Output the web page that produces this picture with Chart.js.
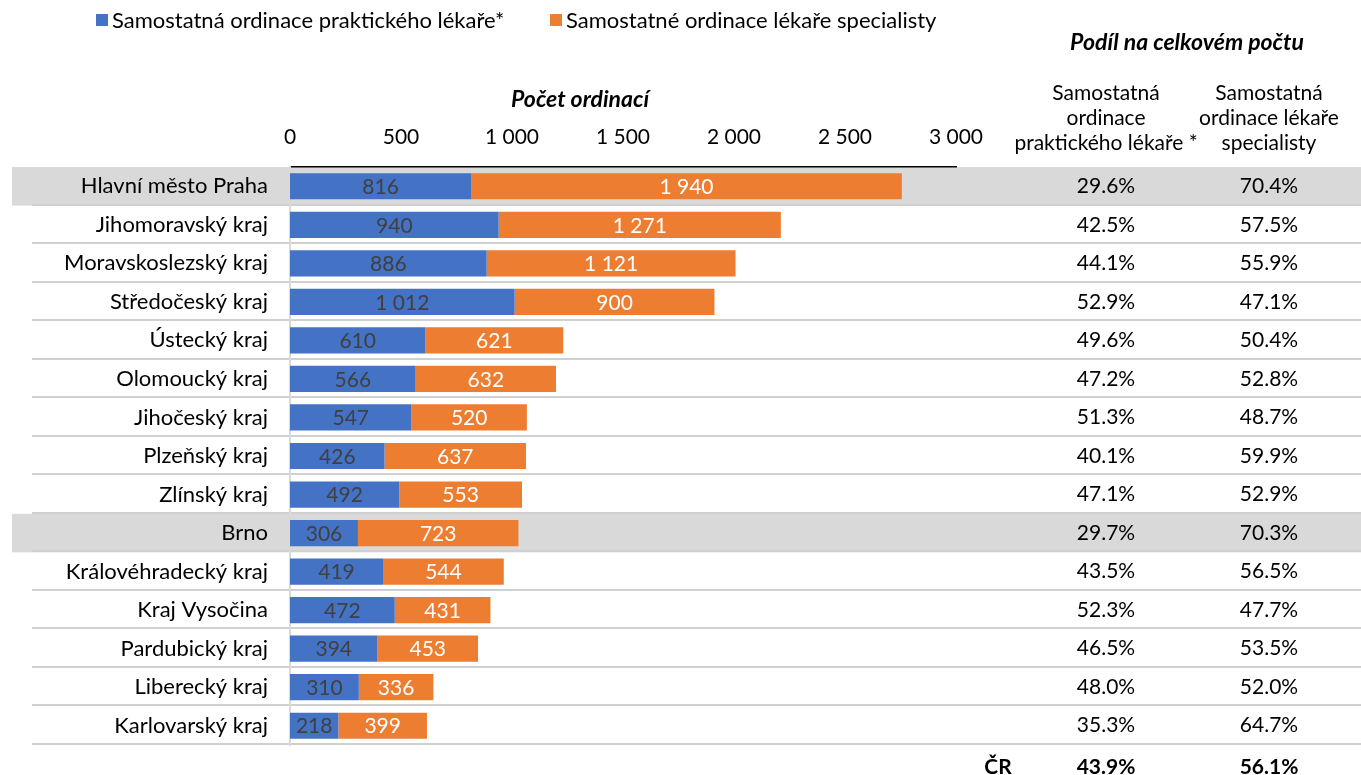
<!DOCTYPE html>
<html>
<head>
<meta charset="utf-8">
<script src="https://cdn.jsdelivr.net/npm/chart.js@4.4.1/dist/chart.umd.min.js"></script>
<style>
  html,body{margin:0;padding:0;background:#fff;}
  canvas{display:block;}
</style>
</head>
<body>
<canvas id="chart" width="1361" height="775"></canvas>
<script>
// ordinace podle krajů – počty a podíly
const regions = ['Hlavní město Praha','Jihomoravský kraj','Moravskoslezský kraj','Středočeský kraj','Ústecký kraj',
  'Olomoucký kraj','Jihočeský kraj','Plzeňský kraj','Zlínský kraj','Brno','Královéhradecký kraj',
  'Kraj Vysočina','Pardubický kraj','Liberecký kraj','Karlovarský kraj'];
const practitioners = [816,940,886,1012,610,566,547,426,492,306,419,472,394,310,218];
const specialists   = [1940,1271,1121,900,621,632,520,637,553,723,544,431,453,336,399];
const sharePract = [29.6,42.5,44.1,52.9,49.6,47.2,51.3,40.1,47.1,29.7,43.5,52.3,46.5,48.0,35.3];
const shareSpec  = [70.4,57.5,55.9,47.1,50.4,52.8,48.7,59.9,52.9,70.3,56.5,47.7,53.5,52.0,64.7];
const totalShares = [43.9,56.1];
const highlighted = ['Hlavní město Praha','Brno'];
const seriesNames = ['Samostatná ordinace praktického lékaře*','Samostatné ordinace lékaře specialisty'];
const colHeaders = [['Samostatná','ordinace','praktického lékaře *'],['Samostatná','ordinace lékaře','specialisty']];

const FONT = 'Lato';
const FS = 21;      // numbers, column headers
const FS_TXT = 22;  // legend, region names
const FS_TTL = 23;  // bold italic titles
const BLUE = '#4472C4', ORANGE = '#ED7D31';

function fmt(n){ return String(n).replace(/\B(?=(\d{3})+(?!\d))/g,' '); }
function pct(v){ return v.toFixed(1)+'%'; }

function txt(ctx, s, x, y, align, font, color){
  ctx.font = font; ctx.fillStyle = color || '#000';
  ctx.textAlign = align; ctx.textBaseline = 'middle';
  ctx.fillText(s, x, y);
}

// grey bands + row separators, drawn under the axes
const tableGrid = {
  id:'tableGrid',
  beforeDraw(chart){
    const ctx = chart.ctx, ys = chart.scales.y, a = chart.chartArea;
    const step = (a.bottom - a.top) / regions.length;
    ctx.save();
    regions.forEach((r,i)=>{
      const c = ys.getPixelForValue(i);
      if(highlighted.includes(r)){ ctx.fillStyle = '#d9d9d9'; ctx.fillRect(12, c-step/2, chart.width-12, step); }
    });
    ctx.strokeStyle = '#d0d0d0'; ctx.lineWidth = 2;
    regions.forEach((r,i)=>{
      const yy = Math.round(ys.getPixelForValue(i) + step/2) - 1;
      ctx.beginPath(); ctx.moveTo(32, yy); ctx.lineTo(chart.width, yy); ctx.stroke();
    });
    ctx.restore();
  }
};

// values inside bar segments
const barValues = {
  id:'barValues',
  afterDatasetsDraw(chart){
    const ctx = chart.ctx;
    ctx.save();
    chart.data.datasets.forEach((ds,di)=>{
      chart.getDatasetMeta(di).data.forEach((bar,i)=>{
        const cx = (bar.base + bar.x)/2;
        txt(ctx, fmt(ds.data[i]), cx, bar.y+1, 'center', FS+'px '+FONT, di===0 ? '#404040' : '#fff');
      });
    });
    ctx.restore();
  }
};

// legend, titles and the share table on the right
const sideTable = {
  id:'sideTable',
  afterDraw(chart){
    const ctx = chart.ctx, ys = chart.scales.y;
    const f = FS+'px '+FONT, fb = 'bold '+FS+'px '+FONT, fbi = 'italic bold '+FS_TTL+'px '+FONT;
    const fl = FS_TXT+'px '+FONT;
    ctx.save();
    // legend
    ctx.fillStyle = BLUE; ctx.fillRect(96, 14, 12, 12);
    txt(ctx, seriesNames[0], 112, 21, 'left', fl);
    ctx.fillStyle = ORANGE; ctx.fillRect(550, 14, 12, 12);
    txt(ctx, seriesNames[1], 566, 21, 'left', fl);
    // titles
    txt(ctx, 'Počet ordinací', 580, 100, 'center', fbi);
    txt(ctx, 'Podíl na celkovém počtu', 1187, 43, 'center', fbi);
    const cols = [1106, 1269];
    colHeaders.forEach((lines,c)=>lines.forEach((l,k)=>txt(ctx, l, cols[c], 93+k*25, 'center', f)));
    regions.forEach((r,i)=>{
      const y = ys.getPixelForValue(i);
      txt(ctx, pct(sharePract[i]), cols[0], y, 'center', f);
      txt(ctx, pct(shareSpec[i]), cols[1], y, 'center', f);
    });
    txt(ctx, 'ČR', 998, 767, 'center', fb);
    txt(ctx, pct(totalShares[0]), cols[0], 767, 'center', fb);
    txt(ctx, pct(totalShares[1]), cols[1], 767, 'center', fb);
    ctx.restore();
  }
};

new Chart(document.getElementById('chart').getContext('2d'), {
  type:'bar',
  data:{
    labels: regions,
    datasets:[
      {label:seriesNames[0], data:practitioners, backgroundColor:BLUE, borderWidth:0, barPercentage:0.68, categoryPercentage:1},
      {label:seriesNames[1], data:specialists, backgroundColor:ORANGE, borderWidth:0, barPercentage:0.68, categoryPercentage:1}
    ]
  },
  options:{
    indexAxis:'y',
    responsive:false,
    animation:false,
    devicePixelRatio:1,
    layout:{padding:{left:0, right:405, top:0, bottom:30}},
    plugins:{legend:{display:false}, tooltip:{enabled:false}},
    scales:{
      x:{
        position:'top', stacked:true, min:0, max:3000,
        ticks:{stepSize:500, color:'#000', font:{family:FONT, size:FS}, padding:17, callback:v=>fmt(v)},
        grid:{display:false, drawTicks:false},
        border:{display:true, color:'#000', width:1.5},
        afterFit(s){ s.height = 167; s.paddingLeft = 0; s.paddingRight = 0; }
      },
      y:{
        stacked:true,
        ticks:{color:'#000', font:{family:FONT, size:FS_TXT}, padding:22},
        grid:{display:false, drawTicks:false},
        border:{display:true, color:'#d9d9d9', width:2},
        afterFit(s){ s.width = 290; s.paddingTop = 0; s.paddingBottom = 0; }
      }
    }
  },
  plugins:[tableGrid, barValues, sideTable]
});
</script>
</body>
</html>
